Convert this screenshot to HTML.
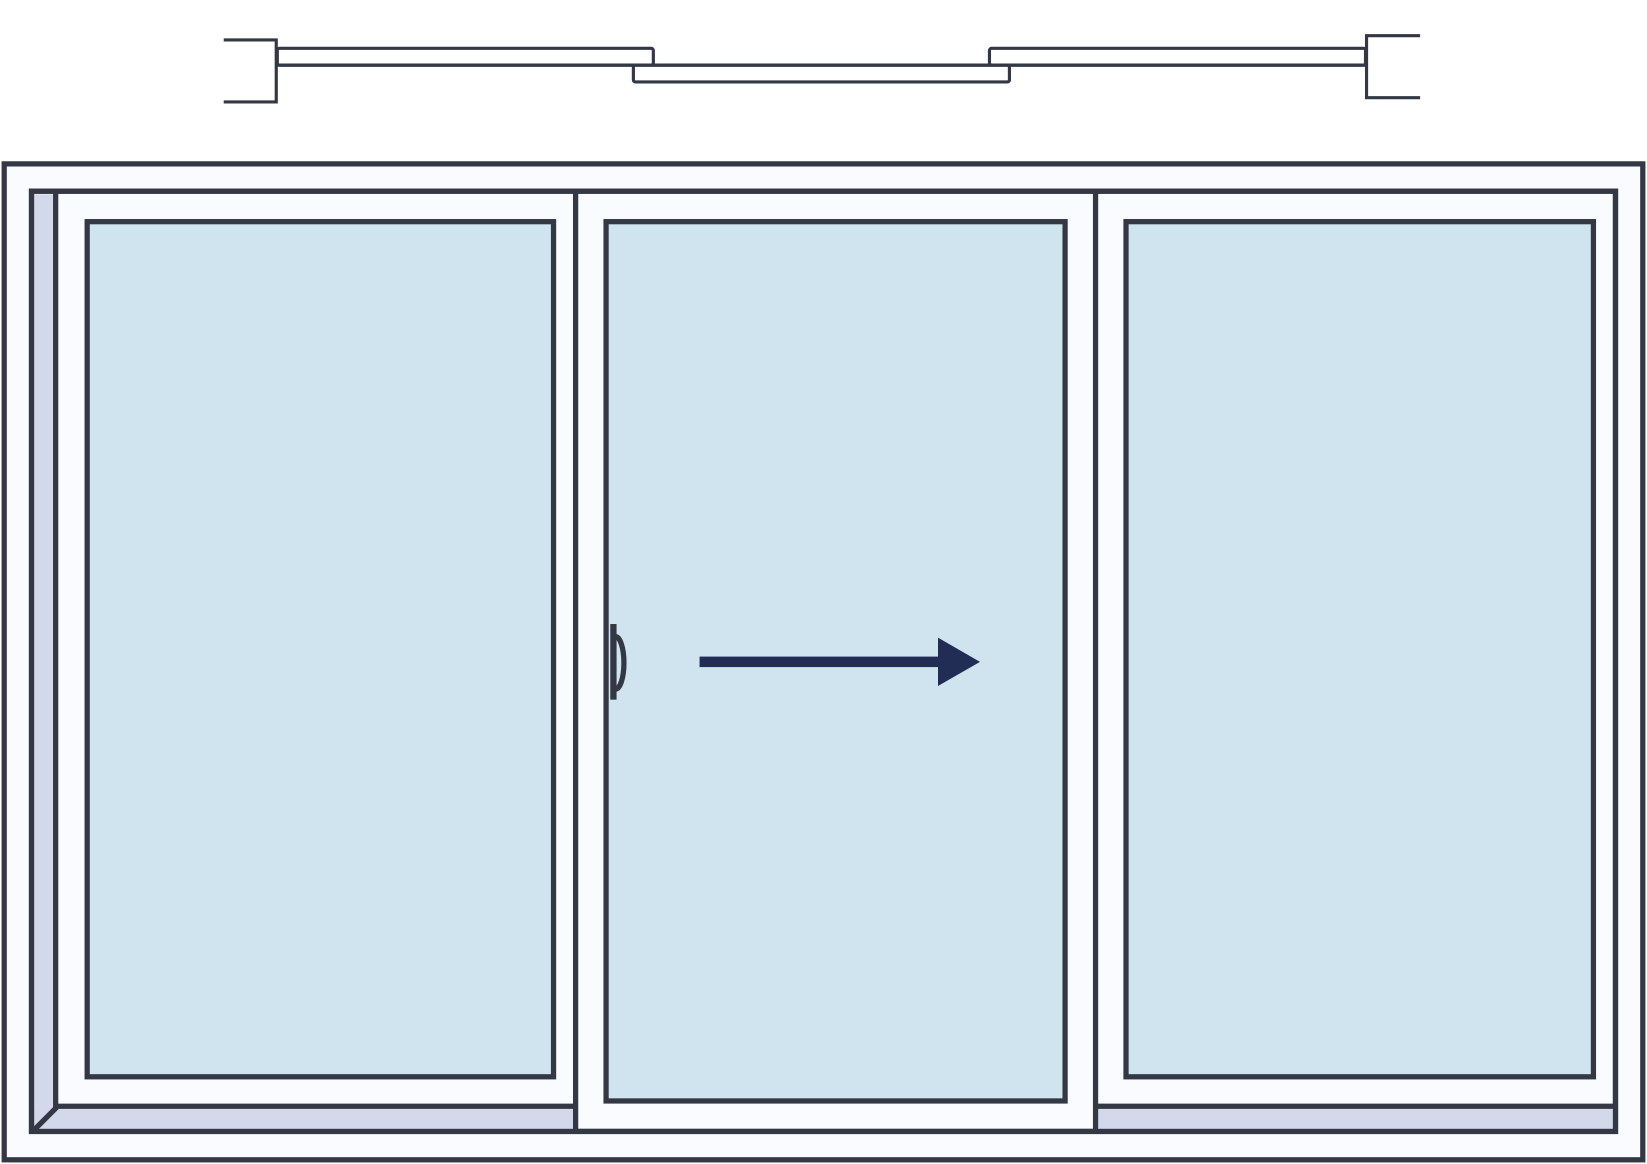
<!DOCTYPE html>
<html><head><style>html,body{margin:0;padding:0;background:#fff}svg{display:block}</style></head>
<body>
<svg width="1647" height="1164" viewBox="0 0 1568 1108" preserveAspectRatio="none" xmlns="http://www.w3.org/2000/svg">
<g fill="none" stroke="#333844" stroke-width="3">
<polyline points="213,38 263,38 263,97 213,97"/>
<rect x="264" y="46" width="358" height="16" rx="2" fill="#fff"/>
<rect x="942" y="46" width="358" height="16" rx="2" fill="#fff"/>
<rect x="603" y="62" width="358" height="16" rx="2" fill="#fff"/>
<line x1="263" y1="62" x2="1300" y2="62"/>
<polyline points="1352,34 1301,34 1301,93 1352,93"/>
</g>
<g stroke="#333844" stroke-width="5">
<rect x="4" y="156" width="1560" height="948" fill="#f9fbfe"/>
<rect x="30" y="182" width="1508" height="895" fill="#f9fbfe"/>
</g>
<rect x="33" y="185" width="20" height="890" fill="#d3d8ea"/>
<rect x="33" y="1055" width="513" height="20" fill="#d3d8ea"/>
<rect x="1045" y="1055" width="490" height="20" fill="#d3d8ea"/>
<g stroke="#333844" stroke-width="5" fill="none">
<line x1="53" y1="182" x2="53" y2="1055"/>
<line x1="53" y1="1053" x2="548" y2="1053"/>
<line x1="1043" y1="1053" x2="1538" y2="1053"/>
<line x1="33" y1="1075" x2="54" y2="1054"/>
<rect x="30" y="182" width="1508" height="895"/>
<line x1="548" y1="182" x2="548" y2="1077"/>
<line x1="1043" y1="182" x2="1043" y2="1077"/>
<rect x="83" y="211" width="444" height="814" fill="#cfe4ef"/>
<rect x="577" y="211" width="437" height="837" fill="#cfe4ef"/>
<rect x="1072" y="211" width="445" height="814" fill="#cfe4ef"/>
<path d="M586,606 A8,25 0 0 1 586,656" stroke-width="5"/>
</g>
<rect x="581" y="594" width="6" height="72" fill="#333844"/>
<rect x="666" y="625" width="229" height="10" fill="#222d55"/>
<polygon points="893,607 933,630 893,653" fill="#222d55"/>
</svg>
</body></html>
